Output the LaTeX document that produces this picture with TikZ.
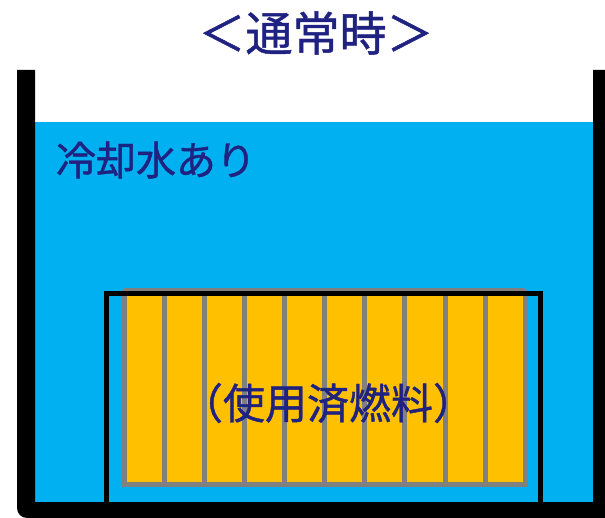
\documentclass[tikz,border=0pt]{standalone}
\usepackage{fontspec}
\newfontfamily\jpfont[FakeBold=1]{Noto Sans CJK JP}
\definecolor{water}{HTML}{00B0F0}
\definecolor{fuel}{HTML}{FFC000}
\definecolor{rodgray}{HTML}{808080}
\definecolor{navy}{RGB}{31,34,128}
\begin{document}
\begin{tikzpicture}[x=1pt,y=-1pt,
  lbl/.style={inner sep=0pt, text=navy, font=\jpfont},
  rod/.style={draw=rodgray, line width=5pt},
  rack/.style={draw=black, line width=5pt}]
\useasboundingbox (0,0) rectangle (605,518);
% water
\fill[water] (35,122) rectangle (593,502);
% pool walls
\fill[black] (17,70) -- (35,70) -- (35,502) -- (593,502) -- (593,70) -- (605,70) -- (605,518)
  -- (27,518) [rounded corners=10pt] -- (17,518) [sharp corners] -- cycle;
% fuel
\fill[fuel] (124.2,290.5) rectangle (525.2,484.2);
\foreach \i in {0,...,10} {
  \draw[rod] ({124.2+40.1*\i},290.5) -- ({124.2+40.1*\i},484.2);
}
\draw[rod] (124.2,290.5) -- (525.2,290.5);
\draw[rod] (121.7,484.2) -- (527.7,484.2);
% rack
\draw[rack] (106.5,502) -- (106.5,293.5) -- (540.2,293.5) -- (540.2,502);
% texts
\node[lbl, font=\jpfont\fontsize{47}{52}\selectfont] (title) at (316,33) {＜通常時＞};
\node[lbl, font=\jpfont\fontsize{40}{44}\selectfont] (cool) at (156,160) {冷却水あり};
\node[lbl, font=\jpfont\fontsize{42}{46}\selectfont] (spent) at (328,403) {（使用済燃料）};
\end{tikzpicture}
\end{document}
